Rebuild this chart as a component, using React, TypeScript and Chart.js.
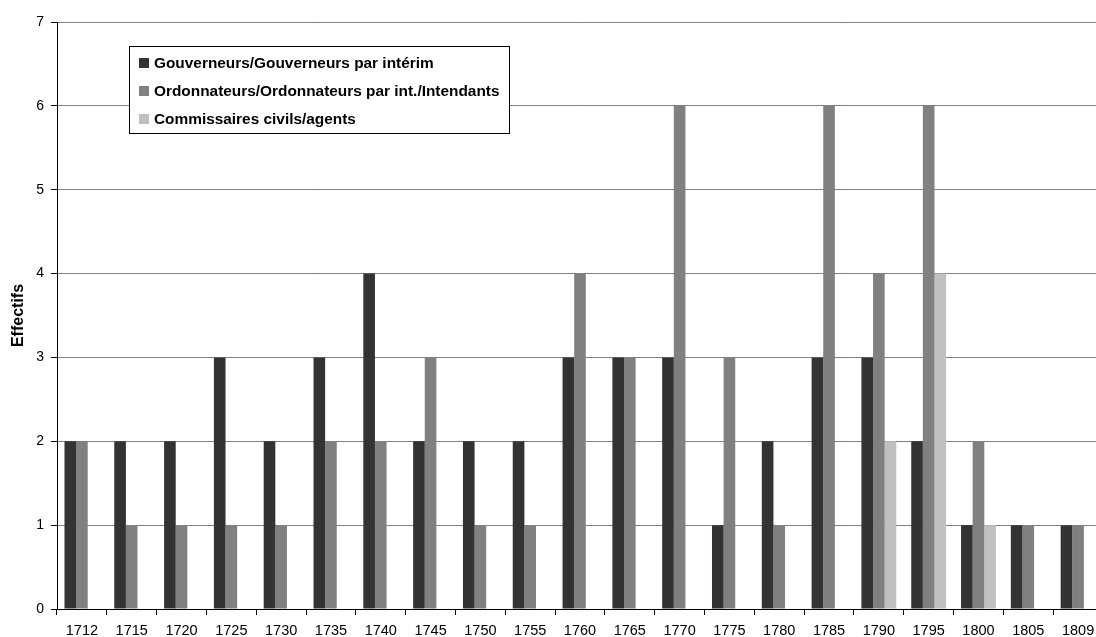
import React, { useEffect, useRef } from "react";
import { Chart, registerables } from "chart.js";

Chart.register(...registerables);

const years = ["1712", "1715", "1720", "1725", "1730", "1735", "1740", "1745", "1750", "1755", "1760", "1765", "1770", "1775", "1780", "1785", "1790", "1795", "1800", "1805", "1809"];
const gouverneurs = [2, 2, 2, 3, 2, 3, 4, 2, 2, 2, 3, 3, 3, 1, 2, 3, 3, 2, 1, 1, 1];
const ordonnateurs = [2, 1, 1, 1, 1, 2, 2, 3, 1, 1, 4, 3, 6, 3, 1, 6, 4, 6, 2, 1, 1];
const commissaires = [0, 0, 0, 0, 0, 0, 0, 0, 0, 0, 0, 0, 0, 0, 0, 0, 2, 4, 1, 0, 0];
const seriesNames = [
  "Gouverneurs/Gouverneurs par intérim",
  "Ordonnateurs/Ordonnateurs par int./Intendants",
  "Commissaires civils/agents",
];
const seriesColors = ["#333333", "#808080", "#c0c0c0"];

const FONT = "Arial, 'Liberation Sans', Helvetica, sans-serif";

const legendPlugin = {
  id: "boxLegend",
  afterDatasetsDraw(chart: any) {
    const ctx = chart.ctx;
    ctx.save();
    const x = 129.5, y = 46.5, w = 380, h = 87;
    ctx.fillStyle = "#ffffff";
    ctx.fillRect(x, y, w, h);
    ctx.strokeStyle = "#000000";
    ctx.lineWidth = 1;
    ctx.strokeRect(x, y, w, h);
    ctx.font = "bold 15.4px " + FONT;
    ctx.textBaseline = "middle";
    ctx.textAlign = "left";
    seriesNames.forEach((name, i) => {
      const cy = 63 + i * 28;
      ctx.fillStyle = seriesColors[i];
      ctx.fillRect(139, cy - 5, 10, 10);
      ctx.fillStyle = "#000000";
      ctx.fillText(name, 154, cy + 1);
    });
    ctx.restore();
  },
};

export default function App() {
  const ref = useRef<HTMLCanvasElement>(null);
  useEffect(() => {
    document.body.style.margin = "0";
    const canvas = ref.current!;
    const chart = new Chart(canvas, {
      type: "bar",
      data: {
        labels: years,
        datasets: [
          { label: seriesNames[0], data: gouverneurs, backgroundColor: seriesColors[0] },
          { label: seriesNames[1], data: ordonnateurs, backgroundColor: seriesColors[1] },
          { label: seriesNames[2], data: commissaires, backgroundColor: seriesColors[2] },
        ],
      },
      options: {
        responsive: false,
        animation: false,
        devicePixelRatio: 1,
        layout: { padding: { top: 22, right: 0, bottom: 0, left: 0 } },
        datasets: { bar: { categoryPercentage: 0.7, barPercentage: 1.0 } },
        plugins: { legend: { display: false }, tooltip: { enabled: false } },
        scales: {
          x: {
            grid: { display: true, drawOnChartArea: false, drawTicks: true, tickLength: 6, tickColor: "#000000", offset: true },
            border: { display: true, color: "#000000", width: 1 },
            ticks: { color: "#000000", font: { family: FONT, size: 14.5 }, padding: 7, maxRotation: 0, autoSkip: false },
            afterFit: (s: any) => { s.height = 28; },
          },
          y: {
            min: 0,
            max: 7,
            ticks: { stepSize: 1, color: "#000000", font: { family: FONT, size: 14 }, padding: 7 },
            grid: { color: "#808080", tickColor: "#000000", tickLength: 6 },
            border: { display: true, color: "#000000", width: 1 },
            title: { display: true, text: "Effectifs", color: "#000000", font: { family: FONT, size: 16, weight: "bold" }, padding: { top: 9, bottom: 0 } },
            afterFit: (s: any) => { s.width = 57; },
          },
        },
      },
      plugins: [legendPlugin],
    });
    return () => chart.destroy();
  }, []);
  return (
    <div style={{ position: "fixed", left: 0, top: 0, width: 1096, height: 637, overflow: "hidden", background: "#ffffff" }}>
      <canvas ref={ref} width={1103} height={637} style={{ display: "block" }} />
    </div>
  );
}
